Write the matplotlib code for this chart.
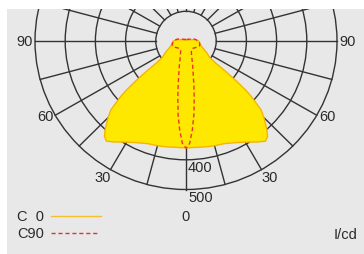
import numpy as np
import matplotlib
matplotlib.use('Agg')
import matplotlib.pyplot as plt
from matplotlib.patches import Circle

plt.rcParams['font.family'] = ['Liberation Sans', 'DejaVu Sans']

# luminous intensity (cd) vs gamma angle (deg, 0 = nadir)
c0_gamma = [0, 10, 15, 20, 25, 30, 35, 38, 40, 42, 45, 47, 49, 50, 51, 52, 53,
            55, 60, 65, 70, 75, 80, 90, 95, 100, 110, 120, 180]
c0_cd = [360, 362, 365, 368, 378, 393, 415, 428, 420, 400, 365, 340, 290, 260,
         215, 170, 120, 95, 80, 65, 55, 50, 47, 42, 34, 25, 12, 5, 5]

c90_gamma = [0, 2, 4, 6, 8, 10, 12, 15, 20, 25, 30, 40, 50, 60, 70, 80, 90,
             100, 110, 120, 180]
c90_cd = [361, 345, 300, 250, 195, 150, 115, 85, 55, 42, 36, 33, 36, 42, 48,
          46, 40, 32, 22, 12, 5]

rings = [100, 200, 300, 400, 500]
spokes = np.arange(0, 360, 15)
angle_labels = [90, 60, 30]
legend_names = ['C  0', 'C90']

W, H = 364, 255
fig = plt.figure(figsize=(W / 100, H / 100), dpi=100)
fig.patch.set_facecolor('white')

# gray panel starts at x=7, y=10 (pixels)
left, top = 7, 10
ax = fig.add_axes([left / W, 0, (W - left) / W, (H - top) / H])
ax.set_facecolor('#e8e8e8')
for s in ax.spines.values():
    s.set_visible(False)
ax.set_xticks([])
ax.set_yticks([])

cx, cy = 186 - left, 42 - top      # centre in axes pixels
sx, sy = 0.302, 0.297              # pixels per cd
aw, ah = W - left, H - top
ax.set_xlim(-cx / sx, (aw - cx) / sx)
ax.set_ylim(-(ah - cy) / sy, cy / sy)

grid_c = '#333333'
for r in rings:
    ax.add_patch(Circle((0, 0), r, fill=False, ec=grid_c, lw=1.0, zorder=1))
for g in spokes:
    t = np.radians(g)
    ax.plot([100 * np.sin(t), 500 * np.sin(t)],
            [-100 * np.cos(t), -500 * np.cos(t)], color=grid_c, lw=1.0, zorder=1)


def polar_xy(gamma, cd):
    g = np.radians(np.concatenate([-np.array(gamma[::-1]), np.array(gamma[1:])]))
    r = np.concatenate([np.array(cd[::-1]), np.array(cd[1:])])
    return r * np.sin(g), -r * np.cos(g)


x0, y0 = polar_xy(c0_gamma, c0_cd)
ax.fill(x0, y0, facecolor='#ffe800', edgecolor='#f5b400', lw=1.0, zorder=3)
x90, y90 = polar_xy(c90_gamma, c90_cd)
ax.plot(x90, y90, color='#f03030', lw=1.0, dashes=(3, 2), zorder=4)

fs = 10.5
tc = '#2a2a2a'
for a in angle_labels:
    t = np.radians(a)
    r = 508 if a != 30 else 500
    va = 'center' if a != 30 else 'top'
    ax.text(r * np.sin(t), -r * np.cos(t), str(a), ha='left', va=va, fontsize=fs, color=tc)
    ax.text(-r * np.sin(t), -r * np.cos(t), str(a), ha='right', va=va, fontsize=fs, color=tc)


def fx(px):
    return px / W


def fy(py):
    return 1 - py / H


fig.text(fx(188), fy(168), '400', ha='left', va='center', fontsize=fs, color=tc)
fig.text(fx(188), fy(198), '500', ha='left', va='center', fontsize=fs, color=tc)
fig.text(fx(186), fy(217), '0', ha='center', va='center', fontsize=fs, color=tc)

fig.text(fx(17), fy(217), legend_names[0], ha='left', va='center', fontsize=fs, color=tc)
fig.text(fx(17), fy(234), legend_names[1], ha='left', va='center', fontsize=fs, color=tc)
fig.add_artist(plt.Line2D([fx(51), fx(101)], [fy(217), fy(217)], color='#f5c030', lw=1.0))
fig.add_artist(plt.Line2D([fx(51), fx(97)], [fy(234), fy(234)], color='#f03030', lw=1.0, dashes=(3, 2)))
fig.text(fx(334), fy(235), 'I/cd', ha='left', va='center', fontsize=fs, color=tc)

fig.savefig('out.png', dpi=100)
